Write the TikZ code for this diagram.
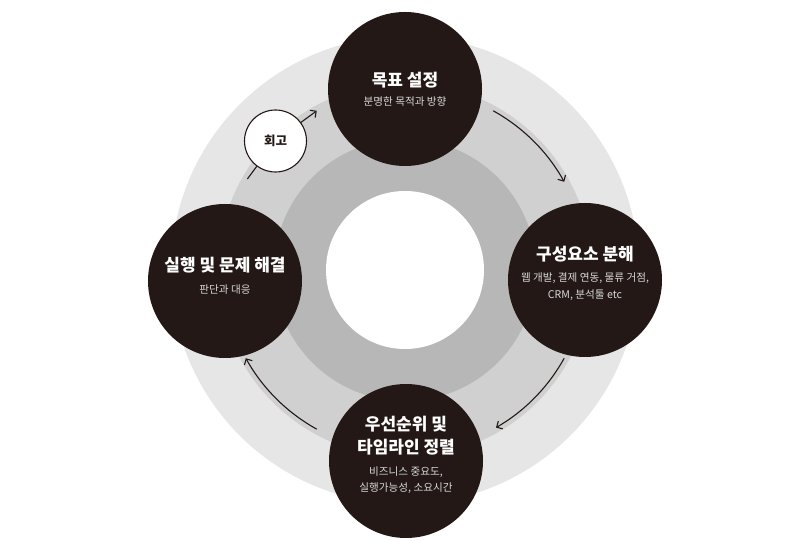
\documentclass[tikz,border=0pt]{standalone}
\usepackage{fontspec}
\newfontfamily\kr{Noto Sans CJK KR}
\usetikzlibrary{arrows.meta,calc}
\definecolor{darkc}{HTML}{231815}
\definecolor{ringA}{HTML}{E6E6E6}
\definecolor{ringB}{HTML}{D0D0D0}
\definecolor{ringC}{HTML}{B7B7B7}
\definecolor{subc}{HTML}{D8D8D8}
\begin{document}
\begin{tikzpicture}[x=1pt,y=1pt,
  big/.style={circle,fill=darkc,minimum size=154pt,inner sep=0pt},
  ttl/.style={font=\kr\bfseries\fontsize{17}{23.5}\selectfont,text=white,align=center,inner sep=0pt},
  subt/.style={font=\kr\fontsize{10.6}{17}\selectfont,text=subc,align=center,inner sep=0pt},
  conn/.style={draw=darkc,line width=1.1pt},
  arrowtip/.style={-{Straight Barb[length=4.5pt,width=9pt]}}
]
\useasboundingbox (0,0) rectangle (810,540);
\coordinate (C) at (405,270);
\fill[ringA] (C) circle[radius=234];
\fill[ringB] (C) circle[radius=187];
\fill[ringC] (C) circle[radius=131];
\fill[white] (C) circle[radius=79];

\node[big] (goal) at (405,451) {};
\node[big] (comp) at (585,260) {};
\node[big] (prio) at (406,79) {};
\node[big] (exec) at (225,259) {};
\node[circle,draw=darkc,line width=1.1pt,fill=white,minimum size=62pt,inner sep=0pt,
      font=\kr\bfseries\fontsize{12.5}{15}\selectfont,text=darkc] (hoego) at (275.5,399) {회고};

\node[ttl] (goalT) at ($(goal)+(0,9)$) {목표 설정};
\node[subt] (goalS) at ($(goal)+(0,-13)$) {분명한 목적과 방향};
\node[ttl] (compT) at ($(comp)+(0,26.3)$) {구성요소 분해};
\node[subt] (compS) at ($(comp)+(0,-6.5)$) {웹 개발, 결제 연동, 물류 거점,\\CRM, 분석툴 etc};
\node[ttl] (prioT) at ($(prio)+(0,25.25)$) {우선순위 및\\타임라인 정렬};
\node[subt,font=\kr\fontsize{10.6}{15.5}\selectfont] (prioS) at ($(prio)+(0,-19.25)$) {비즈니스 중요도,\\실행가능성, 소요시간};
\node[ttl] (execT) at ($(exec)+(0,16)$) {실행 및 문제 해결};
\node[subt] (execS) at ($(exec)+(0,-9)$) {판단과 대응};

\coordinate (a1s) at ($(C)+(61:182)$);
\coordinate (a2s) at ($(C)+(-29:182)$);
\coordinate (a3s) at ($(C)+(-119:182)$);
\coordinate (a4s) at ($(C)+(150:182)$);
\coordinate (a4e) at ($(C)+(119:182)$);
\draw[conn,arrowtip] (a1s) arc[start angle=61,end angle=29,radius=182];
\draw[conn,arrowtip] (a2s) arc[start angle=-29,end angle=-60,radius=182];
\draw[conn,arrowtip] (a3s) arc[start angle=-119,end angle=-151,radius=182];
\draw[conn] (a4s) -- (hoego);
\draw[conn,arrowtip] (hoego) -- (a4e);
\end{tikzpicture}
\end{document}
